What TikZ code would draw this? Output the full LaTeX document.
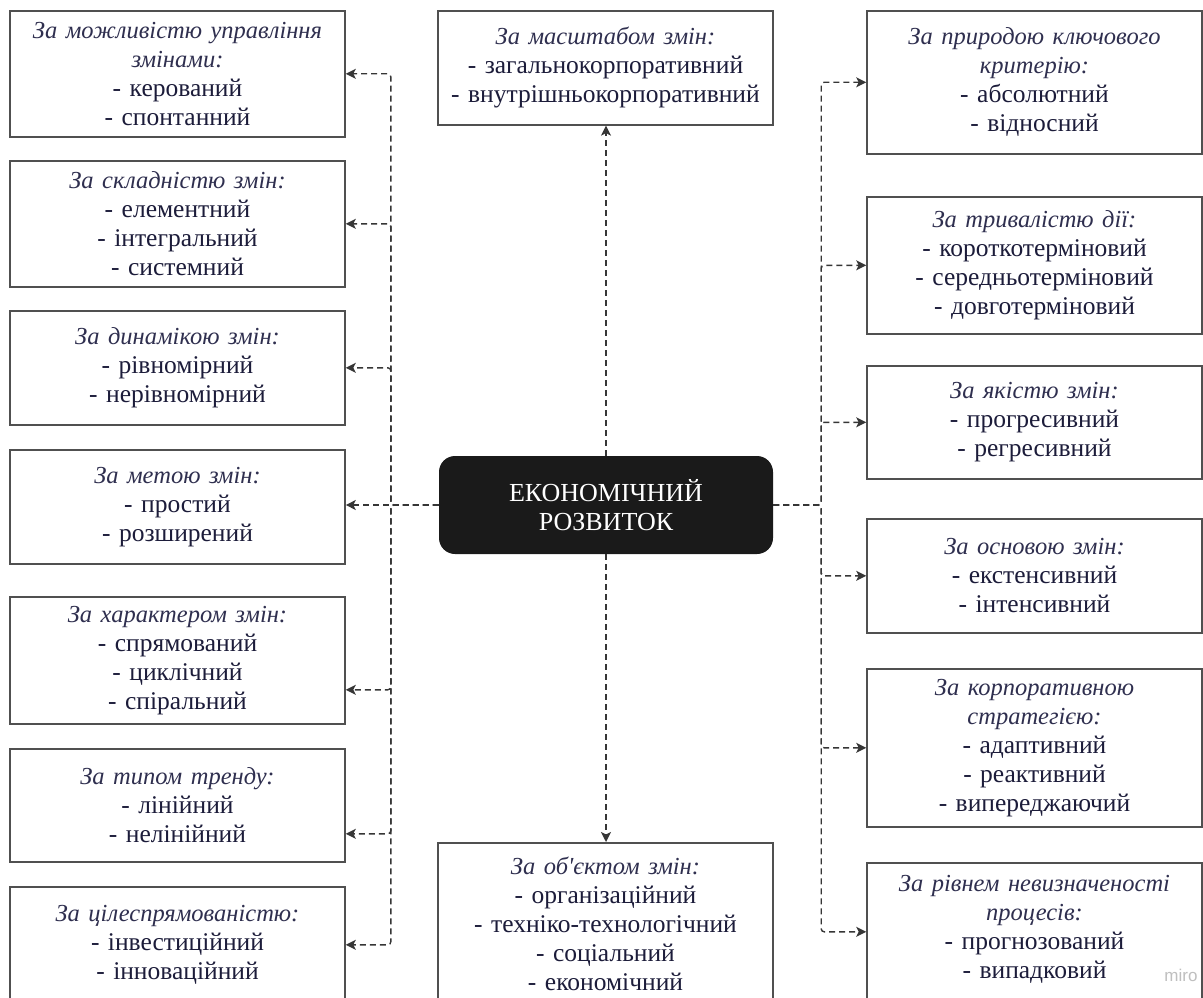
\documentclass[tikz,border=0pt]{standalone}
\usepackage{fontspec}
\setmainfont{Liberation Serif}[Ligatures=TeXOff]
\newfontfamily\sansw{Liberation Sans}
\usetikzlibrary{arrows.meta}
\definecolor{txtc}{HTML}{1C1C3A}
\definecolor{hdrc}{HTML}{2F2F4F}
\definecolor{boxc}{HTML}{505050}
\definecolor{linec}{HTML}{363636}
\definecolor{darkc}{HTML}{1A1A1A}
\newcommand{\hdr}[1]{{\color{hdrc}\fontsize{24.5}{29}\selectfont\itshape #1}}
\begin{document}
\begin{tikzpicture}[x=1pt,y=-1pt,
  box/.style={draw=boxc, line width=1.6pt, fill=white, minimum width=335pt,
    text width=330pt, align=center, inner sep=0pt, text=txtc, anchor=north,
    font=\fontsize{25.5}{29}\selectfont},
  conn/.style={draw=linec, line width=1.4pt, dash pattern=on 6pt off 4pt,
    rounded corners=3pt, -{Stealth[length=10pt,width=10pt,inset=2.5pt]}},
  hub/.style={fill=darkc, rounded corners=16pt, minimum width=334pt,
    minimum height=98pt, text width=330pt, inner sep=0pt, text=white, align=center,
    font=\fontsize{26}{29}\selectfont}]
\useasboundingbox (0,0) rectangle (1203,998);
\clip (0,0) rectangle (1203,998);

% central node
\node[hub] (C) at (606,505) {ЕКОНОМІЧНИЙ\\РОЗВИТОК};

% left column
\node[box, minimum height=126pt] (L1) at (177.5,10) {\hdr{За можливістю управління}\\\hdr{змінами:}\\- керований\\- спонтанний};
\node[box, minimum height=126pt] (L2) at (177.5,160) {\hdr{За складністю змін:}\\- елементний\\- інтегральний\\- системний};
\node[box, minimum height=114pt] (L3) at (177.5,310) {\hdr{За динамікою змін:}\\- рівномірний\\- нерівномірний};
\node[box, minimum height=114pt] (L4) at (177.5,449) {\hdr{За метою змін:}\\- простий\\- розширений};
\node[box, minimum height=127pt] (L5) at (177.5,596) {\hdr{За характером змін:}\\- спрямований\\- циклічний\\- спіральний};
\node[box, minimum height=113pt] (L6) at (177.5,748) {\hdr{За типом тренду:}\\- лінійний\\- нелінійний};
\node[box, minimum height=116pt] (L7) at (177.5,886) {\hdr{За цілеспрямованістю:}\\- інвестиційний\\- інноваційний};

% centre column
\node[box, minimum height=114pt] (T) at (605.5,10) {\hdr{За масштабом змін:}\\- загальнокорпоративний\\- внутрішньокорпоративний};
\node[box, minimum height=163pt] (B) at (605.5,842) {\hdr{За об'єктом змін:}\\- організаційний\\- техніко-технологічний\\- соціальний\\- економічний};

% right column
\node[box, minimum height=143pt] (R1) at (1034.5,10) {\hdr{За природою ключового}\\\hdr{критерію:}\\- абсолютний\\- відносний};
\node[box, minimum height=137pt] (R2) at (1034.5,196) {\hdr{За тривалістю дії:}\\- короткотерміновий\\- середньотерміновий\\- довготерміновий};
\node[box, minimum height=113pt] (R3) at (1034.5,365) {\hdr{За якістю змін:}\\- прогресивний\\- регресивний};
\node[box, minimum height=114pt] (R4) at (1034.5,518) {\hdr{За основою змін:}\\- екстенсивний\\- інтенсивний};
\node[box, minimum height=158pt] (R5) at (1034.5,668) {\hdr{За корпоративною}\\\hdr{стратегією:}\\- адаптивний\\- реактивний\\- випереджаючий};
\node[box, minimum height=157pt] (R6) at (1034.5,862) {\hdr{За рівнем невизначеності}\\\hdr{процесів:}\\- прогнозований\\- випадковий\\\mbox{}};

% connectors to the left
\draw[conn] (C.west) -- (C.west -| L4.east);
\draw[conn] (C.west) -- ++(-48,0) |- (L1.east);
\draw[conn] (C.west) -- ++(-48,0) |- (L2.east);
\draw[conn] (C.west) -- ++(-48,0) |- (L3.east);
\draw[conn] (C.west) -- ++(-48,0) |- ([yshift=-29.5pt]L5.east);
\draw[conn] (C.west) -- ++(-48,0) |- ([yshift=-28.5pt]L6.east);
\draw[conn] (C.west) -- ++(-48,0) |- (L7.east);

% connectors to the right
\draw[conn] (C.east) -- ++(48,0) |- (R1.west);
\draw[conn] (C.east) -- ++(48,0) |- (R2.west);
\draw[conn] (C.east) -- ++(48,0) |- (R3.west);
\draw[conn] (C.east) -- ++(48,0) |- (R4.west);
\draw[conn] (C.east) -- ++(48,0) |- (R5.west);
\draw[conn] (C.east) -- ++(48,0) |- ([yshift=9.5pt]R6.west);

% vertical connectors
\draw[conn] (C.north) -- (C.north |- T.south);
\draw[conn] (C.south) -- (C.south |- B.north);

% watermark
\node[font=\sansw\fontsize{17}{17}\selectfont, text=black!25] (miro) at (1181,975) {miro};
\end{tikzpicture}
\end{document}
